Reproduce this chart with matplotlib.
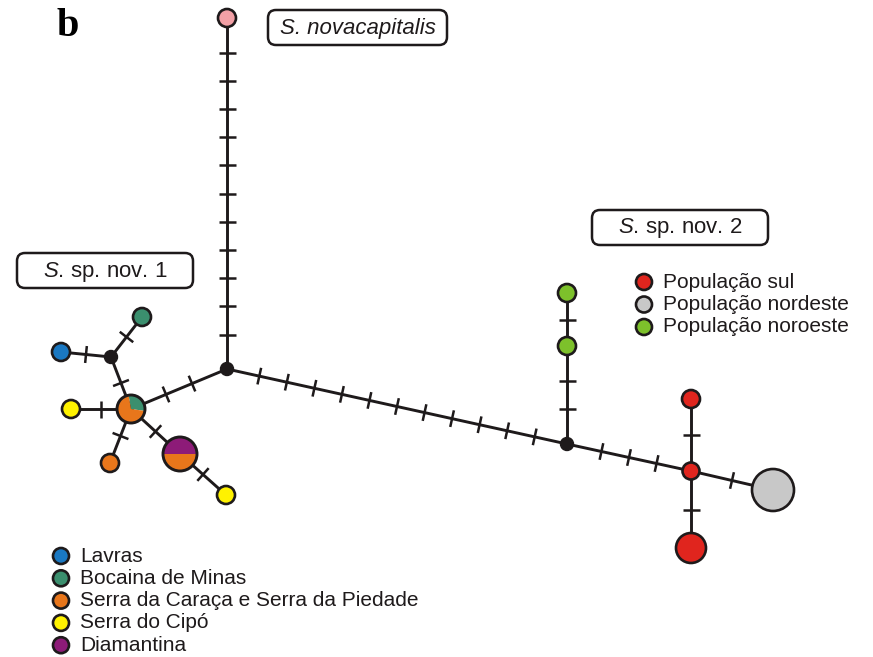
import matplotlib
matplotlib.use('Agg')
import matplotlib.pyplot as plt
from matplotlib.patches import Circle, Wedge, FancyBboxPatch
import numpy as np

plt.rcParams['font.family'] = ['Liberation Sans', 'DejaVu Sans']
plt.rcParams['mathtext.fontset'] = 'custom'
plt.rcParams['mathtext.it'] = 'Liberation Sans:italic'
plt.rcParams['mathtext.rm'] = 'Liberation Sans'

## populations (legend)
pop_labels = ['Lavras', 'Bocaina de Minas', 'Serra da Caraça e Serra da Piedade',
              'Serra do Cipó', 'Diamantina']
pop_colors = ['#1a78c2', '#3b8f6e', '#e8761b', '#fff200', '#8d1b78']
nov2_labels = ['População sul', 'População nordeste', 'População noroeste']
nov2_colors = ['#e0251e', '#c8c8c8', '#7dc12b']
novacap_color = '#f2a0a6'

## haplotypes and their composition (colour, fraction)
hap_names = ['nc', 'lav', 'boc', 'h1', 'cip1', 'car2', 'h2', 'cip2',
             'no1', 'no2', 'D', 'sul2', 'sul3', 'ne']
hap_comp = {
    'nc': [(novacap_color, 1.0)],
    'lav': [(pop_colors[0], 1.0)],
    'boc': [(pop_colors[1], 1.0)],
    'h1': [(pop_colors[1], 0.3), (pop_colors[2], 0.7)],
    'cip1': [(pop_colors[3], 1.0)],
    'car2': [(pop_colors[2], 1.0)],
    'h2': [(pop_colors[4], 0.5), (pop_colors[2], 0.5)],
    'cip2': [(pop_colors[3], 1.0)],
    'no1': [(nov2_colors[2], 1.0)],
    'no2': [(nov2_colors[2], 1.0)],
    'D': [(nov2_colors[0], 1.0)],
    'sul2': [(nov2_colors[0], 1.0)],
    'sul3': [(nov2_colors[0], 1.0)],
    'ne': [(nov2_colors[1], 1.0)],
}
median_names = ['A', 'B', 'C']

## edges with number of mutational steps
edges = [('A', 'nc', 11), ('A', 'C', 11), ('A', 'h1', 2), ('B', 'h1', 1),
         ('B', 'lav', 1), ('B', 'boc', 1), ('h1', 'cip1', 1), ('h1', 'car2', 1),
         ('h1', 'h2', 1), ('h2', 'cip2', 1), ('C', 'no1', 2), ('no1', 'no2', 1),
         ('C', 'D', 3), ('D', 'sul2', 1), ('D', 'sul3', 1), ('D', 'ne', 1)]

## layout (pixels) and node radius
pos = {'nc': (227, 18), 'A': (227, 369), 'B': (111, 357), 'lav': (61, 352),
       'boc': (142, 317), 'h1': (131, 409), 'cip1': (71, 409), 'car2': (110, 463),
       'h2': (180, 454), 'cip2': (226, 495), 'C': (567, 444), 'no1': (567, 346),
       'no2': (567, 293), 'D': (691, 471), 'sul2': (691, 399), 'sul3': (691, 548),
       'ne': (773, 490)}
radius = {'h1': 14, 'h2': 17, 'sul3': 15, 'ne': 21, 'D': 8.5}

ink = '#1e1a1b'

fig = plt.figure(figsize=(8.73, 6.57), dpi=100)
ax = fig.add_axes([0, 0, 1, 1])
ax.set_xlim(0, 873)
ax.set_ylim(657, 0)
ax.set_aspect('equal')
ax.axis('off')

step = 28.2
half_tick = 8.5
for a, b, k in edges:
    p = np.array(pos[a], float)
    q = np.array(pos[b], float)
    ax.plot([p[0], q[0]], [p[1], q[1]], color=ink, lw=2.1, zorder=1,
            solid_capstyle='butt')
    u = (q - p) / np.linalg.norm(q - p)
    nrm = np.array([-u[1], u[0]])
    m = (p + q) / 2
    for i in range(k):
        c = m + u * (i - (k - 1) / 2) * step
        t0 = c - nrm * half_tick
        t1 = c + nrm * half_tick
        ax.plot([t0[0], t1[0]], [t0[1], t1[1]], color=ink, lw=1.8, zorder=1,
                solid_capstyle='butt')

for name in median_names:
    ax.add_patch(Circle(pos[name], 6.5, color=ink, zorder=3))

# start angles in data coords (y is inverted, so visual angle = -angle)
start_angle = {'h1': -100, 'h2': 180}
for name in hap_names:
    x, y = pos[name]
    r = radius.get(name, 9)
    comp = hap_comp[name]
    if len(comp) == 1:
        ax.add_patch(Circle((x, y), r, facecolor=comp[0][0], edgecolor=ink,
                            lw=1.9, zorder=3))
    else:
        th = start_angle.get(name, 0)
        for col, frac in comp:
            ax.add_patch(Wedge((x, y), r, th, th + 360 * frac, facecolor=col,
                               edgecolor='none', zorder=3))
            th += 360 * frac
        ax.add_patch(Circle((x, y), r, facecolor='none', edgecolor=ink,
                            lw=2.1, zorder=4))

# legends
def legend(x0, y0, dy, labels, colors):
    for i, (lab, col) in enumerate(zip(labels, colors)):
        y = y0 + i * dy
        ax.add_patch(Circle((x0, y), 8, facecolor=col, edgecolor=ink,
                            lw=1.9, zorder=3))
        ax.text(x0 + 19, y, lab, fontsize=15, va='center', ha='left',
                color=ink)

legend(644, 282, 22.5, nov2_labels, nov2_colors)
legend(61, 556, 22.3, pop_labels, pop_colors)

# boxed species labels
def box_label(x0, y0, x1, y1, txt, italic=False):
    ax.add_patch(FancyBboxPatch((x0 + 8, y0 + 8), x1 - x0 - 16, y1 - y0 - 16,
                                boxstyle='round,pad=8', facecolor='white',
                                edgecolor=ink, lw=1.8, zorder=2))
    ax.text((x0 + x1) / 2, (y0 + y1) / 2 + 1, txt, fontsize=16, ha='center',
            va='center', color=ink, zorder=5,
            fontstyle='italic' if italic else 'normal')

box_label(268, 10, 447, 45, 'S. novacapitalis', italic=True)
box_label(592, 210, 768, 245, r'$\mathit{S}$. sp. nov. 2')
box_label(17, 253, 193, 288, r'$\mathit{S}$. sp. nov. 1')

ax.text(68, 27, 'b', fontsize=29, fontweight='bold', family='Liberation Serif',
        ha='center', va='center', color='black')

fig.savefig('out.png', dpi=100)
